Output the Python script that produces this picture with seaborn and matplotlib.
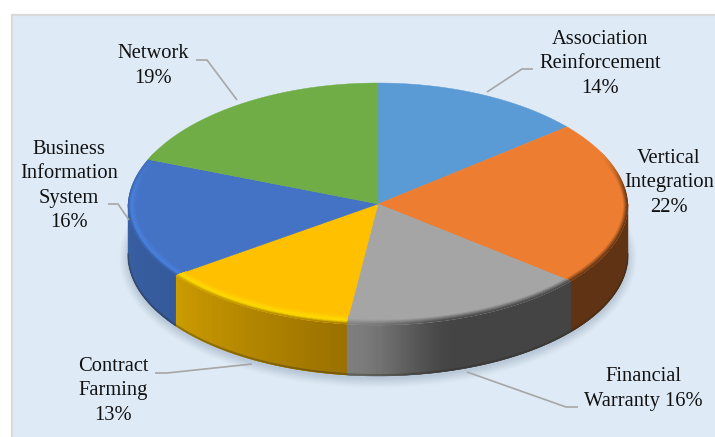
import numpy as np
import matplotlib
matplotlib.use("Agg")
import matplotlib.pyplot as plt
from matplotlib.collections import PolyCollection
from matplotlib.colors import to_rgb
from matplotlib.patches import Ellipse, Polygon, Rectangle
import seaborn as sns

# Shares of each strategy, clockwise from twelve o'clock
categories = ["Association\nReinforcement", "Vertical\nIntegration", "Financial\nWarranty",
              "Contract\nFarming", "Business\nInformation\nSystem", "Network"]
shares = [14, 22, 16, 13, 16, 19]

sns.set_theme(style="white")
plt.rcParams["font.family"] = ["Liberation Serif", "DejaVu Serif"]

face_colors = sns.color_palette(["#5B9BD5", "#ED7D31", "#A5A5A5", "#FFC000", "#4472C4", "#70AD47"])
wall_left = ["#3A6A94", "#5F3314", "#7E7E7E", "#CC9C00", "#3A63A8", "#4C7A30"]
wall_right = ["#3A6A94", "#5F3314", "#444444", "#9A7000", "#355A9C", "#4C7A30"]
rim_glow = ["#5B9BD5", "#ED7D31", "#A5A5A5", "#FFDD00", "#4A82E0", "#70AD47"]
glow_start = [0.55, 0.55, 0.55, 0.3, 0.3, 0.55]

CX, CY, RX, RY, DEPTH = 378.0, 204.0, 250.0, 121.0, 51.0
BEVEL_X, BEVEL_Y = 0.034, 0.08
TAPER = 0.03
PANEL = "#DEEAF6"
LEADER = "#A6A6A6"

# Per-slice label placement and leader routes, in figure pixels
label_xy = [(600, 64), (669, 183), (643, 389), (113, 391), (69, 186), (153, 66)]
leaders = [
    [(487, 92), (522, 69), (533, 69)],
    None,
    [(467, 372), (566, 407), (578, 407)],
    [(252, 364), (167, 373), (155, 373)],
    [(129, 220), (118, 204), (108, 204)],
    [(237, 100), (207, 60), (196, 60)],
]


def rim(theta, sx=1.0, sy=1.0):
    # The far half of the disc narrows slightly for a perspective feel
    taper = 1 - TAPER * np.clip(np.cos(theta), 0, None)
    return np.column_stack([CX + RX * sx * taper * np.sin(theta), CY - RY * sy * np.cos(theta)])


def mix(a, b, t):
    a, b = np.array(to_rgb(a)), np.array(to_rgb(b))
    return tuple(a + (b - a) * np.clip(t, 0, 1))


def smooth(x, lo, hi):
    t = np.clip((x - lo) / (hi - lo), 0, 1)
    return t * t * (3 - 2 * t)


fig = plt.figure(figsize=(7.15, 4.37), dpi=100, facecolor="white")
ax = fig.add_axes([0, 0, 1, 1])
ax.set_xlim(0, 715)
ax.set_ylim(437, 0)
ax.axis("off")

ax.add_patch(Rectangle((11.5, 14.5), 720, 440, facecolor=PANEL, edgecolor="#D9D9D9", linewidth=1.6, zorder=0))

# Soft drop shadow hugging the disc
for grow, alpha in zip(np.linspace(9, 0, 10), np.linspace(0.03, 0.1, 10)):
    ax.add_patch(Ellipse((CX, CY + DEPTH + 3), 2 * (RX + grow), 2 * (RY + grow),
                         facecolor="#9FB0C0", edgecolor="none", alpha=alpha, zorder=1))

edges = np.deg2rad(np.concatenate([[0], np.cumsum(shares)]) * 3.6)


def wall_shade(i, theta):
    frac = (theta - edges[i]) / (edges[i + 1] - edges[i])
    if i == 2:
        frac = smooth(frac, 0.55, 1.0)
    return mix(wall_right[i], wall_left[i], frac)


# Side wall, only the front half of the disc is visible
for i in range(len(shares)):
    lo, hi = max(edges[i], np.pi / 2), min(edges[i + 1], 3 * np.pi / 2)
    if hi <= lo:
        continue
    steps = np.linspace(lo, hi, int(np.degrees(hi - lo) * 2) + 2)
    upper = rim(steps)
    outline = np.vstack([upper, (upper + [0, DEPTH])[::-1]])
    ax.fill(*outline.T, color=wall_shade(i, 0.5 * (lo + hi)), lw=0.3, zorder=2)
    quads, shades = [], []
    for k in range(len(steps) - 1):
        quads.append([upper[k], upper[k + 1], upper[k + 1] + [0, DEPTH], upper[k] + [0, DEPTH]])
        shades.append(wall_shade(i, 0.5 * (steps[k] + steps[k + 1])))
    strips = PolyCollection(quads, facecolors=shades, edgecolors=shades,
                            linewidths=0.8, antialiaseds=True, zorder=2.5)
    ax.add_collection(strips)
    strips.set_clip_path(Polygon(outline, transform=ax.transData))

# Dark contact line along the lower edge of the wall
front = np.linspace(np.pi / 2, 3 * np.pi / 2, 300)
lower = rim(front) + [0, DEPTH - 1.0]
ax.plot(lower[:, 0], lower[:, 1], color="#2E2A20", lw=1.4, alpha=0.35, zorder=3)

# Flat top faces
for i in range(len(shares)):
    theta = np.linspace(edges[i], edges[i + 1], 200)
    ax.fill(*np.vstack([[CX, CY], rim(theta)]).T, color=face_colors[i], lw=0.3, zorder=4)

# Bevel between top face and wall, fading out towards the back of the disc
levels = np.linspace(1, 0, 11)
for i in range(len(shares)):
    arc = np.linspace(edges[i], edges[i + 1], 160)
    bands, colors = [], []
    for a, b in zip(arc[:-1], arc[1:]):
        mid = 0.5 * (a + b)
        weight = smooth(-np.cos(mid), -0.45, -0.05)
        if weight < 0.01:
            continue
        wall_here = wall_shade(i, mid)
        for t0, t1 in zip(levels[:-1], levels[1:]):
            p0 = rim(np.array([a, b]), 1 - BEVEL_X * t0, 1 - BEVEL_Y * t0)
            p1 = rim(np.array([a, b]), 1 - BEVEL_X * t1, 1 - BEVEL_Y * t1)
            bands.append([p0[0], p0[1], p1[1], p1[0]])
            t = 0.5 * (t0 + t1)
            g = glow_start[i]
            if t > g:
                c = mix(rim_glow[i], face_colors[i], (t - g) / (1 - g))
            else:
                c = mix(wall_here, rim_glow[i], t / g)
            colors.append(mix(face_colors[i], c, weight))
    if bands:
        bevel = PolyCollection(bands, facecolors=colors, edgecolors=colors,
                               linewidths=0.6, antialiaseds=True, zorder=5)
        ax.add_collection(bevel)
        theta = np.linspace(edges[i], edges[i + 1], 200)
        bevel.set_clip_path(Polygon(np.vstack([[CX, CY], rim(theta)]), transform=ax.transData))

# Leader lines and category labels
for route in leaders:
    if route:
        xs, ys = zip(*route)
        ax.plot(xs, ys, color=LEADER, lw=1.2, zorder=6, solid_capstyle="butt")

for name, share, (x, y) in zip(categories, shares, label_xy):
    # Financial Warranty keeps its share on the last name line
    text = f"{name} {share}%" if name.startswith("Financial") else f"{name}\n{share}%"
    ax.text(x, y, text, ha="center", va="center", multialignment="center",
            fontsize=14.8, linespacing=1.4, color="#111111", zorder=7)

fig.savefig("out.png", dpi=100)
